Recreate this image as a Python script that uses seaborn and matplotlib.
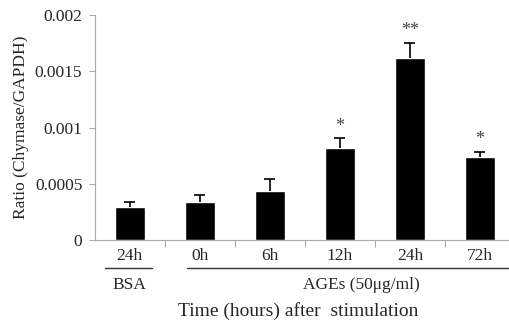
import numpy as np
import pandas as pd
import matplotlib
matplotlib.use("Agg")
import matplotlib.pyplot as plt
import seaborn as sns

# values
groups = ["BSA 24h", "AGEs 0h", "AGEs 6h", "AGEs 12h", "AGEs 24h", "AGEs 72h"]
tick_labels = ["24h", "0h", "6h", "12h", "24h", "72h"]
ratio = [0.00029, 0.00034, 0.00044, 0.00082, 0.00162, 0.000735]
sem = [0.000045, 0.00006, 0.0001, 0.000085, 0.000135, 0.00005]
stars = ["", "", "", "*", "**", "*"]

df = pd.DataFrame({"group": groups, "ratio": ratio})

sns.set_theme(style="white")
plt.rcParams["font.family"] = ["Liberation Serif", "DejaVu Serif"]

fig = plt.figure(figsize=(5.10, 3.21), dpi=100)
ax = fig.add_axes([0.186, 0.252, 0.814, 0.701])

sns.barplot(data=df, x="group", y="ratio", color="black", width=0.42,
            saturation=1, errorbar=None, ax=ax)

# upward-only error bars with a cap on top
x = np.arange(len(groups))
tops = np.array(ratio) + np.array(sem)
ax.vlines(x, ratio, tops, color="black", lw=1.2)
ax.hlines(tops, x - 0.08, x + 0.08, color="black", lw=1.2)
for xi, t, s in zip(x, tops, stars):
    if s:
        ax.text(xi, t + 0.00003, s, ha="center", va="bottom",
                fontsize=13, color="#444444")

ax.set_ylim(0, 0.002)
ax.set_xlim(-0.5, 5.43)
ax.set_yticks([0, 0.0005, 0.001, 0.0015, 0.002])
ax.set_yticklabels(["0", "0.0005", "0.001", "0.0015", "0.002"])
ax.set_xticks(x)
ax.set_xticklabels(tick_labels)
ax.set_xticks(np.arange(0.5, 5.0, 1), minor=True)
ax.tick_params(axis="x", which="major", length=0, pad=6, labelsize=12.5)
ax.tick_params(axis="x", which="minor", length=5, color="#aaaaaa", width=0.8,
               bottom=True, direction="out")
ax.tick_params(axis="y", length=4, color="#aaaaaa", width=0.8, left=True,
               labelsize=12.5, pad=5, direction="out")
ax.set_xlabel("")
ax.set_ylabel("Ratio (Chymase/GAPDH)", fontsize=12.5, labelpad=4)
for sp in ["top", "right"]:
    ax.spines[sp].set_visible(False)
for sp in ["left", "bottom"]:
    ax.spines[sp].set_color("#aaaaaa")
    ax.spines[sp].set_linewidth(0.8)

tr = ax.get_xaxis_transform()
ax.plot([-0.36, 0.31], [-0.124, -0.124], color="#333333", lw=1,
        transform=tr, clip_on=False)
ax.plot([0.81, 5.43], [-0.124, -0.124], color="#333333", lw=1,
        transform=tr, clip_on=False)
ax.text(0.0, -0.2, "BSA", transform=tr, ha="center", va="center",
        fontsize=12.5)
ax.text(3.3, -0.2, "AGEs (50μg/ml)", transform=tr, ha="center", va="center",
        fontsize=12.5)
ax.text(2.4, -0.315, "Time (hours) after  stimulation", transform=tr,
        ha="center", va="center", fontsize=14)

fig.savefig("out.png", dpi=100)
